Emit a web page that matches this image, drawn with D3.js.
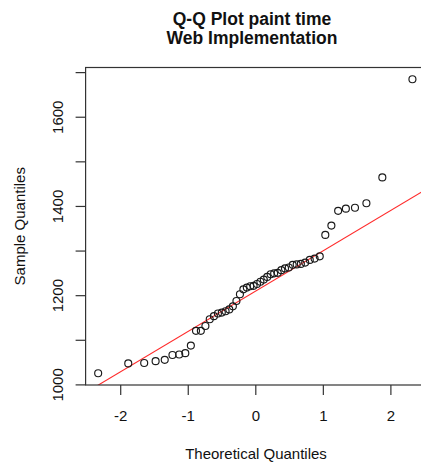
<!DOCTYPE html>
<html>
<head>
<meta charset="utf-8">
<script src="https://cdn.jsdelivr.net/npm/d3@7"></script>
<style>
  body { margin: 0; background: #fff; }
  text { font-family: "Liberation Sans", Arial, sans-serif; fill: #111; }
</style>
</head>
<body>
<svg id="chart" width="421" height="468"></svg>
<script>
// theoretical normal quantiles for n = 50 (qnorm(ppoints(50)))
var theoretical = [
  -2.3263, -1.8808, -1.6449, -1.4758, -1.3408, -1.2265, -1.1264, -1.0364, -0.9542, -0.8779,
  -0.8064, -0.7388, -0.6745, -0.6128, -0.5534, -0.4959, -0.4399, -0.3853, -0.3319, -0.2793,
  -0.2275, -0.1764, -0.1257, -0.0753, -0.0251, 0.0251, 0.0753, 0.1257, 0.1764, 0.2275,
  0.2793, 0.3319, 0.3853, 0.4399, 0.4959, 0.5534, 0.6128, 0.6745, 0.7388, 0.8064,
  0.8779, 0.9542, 1.0364, 1.1264, 1.2265, 1.3408, 1.4758, 1.6449, 1.8808, 2.3263
];
// sorted paint times (sample quantiles)
var sample = [
  1025, 1047, 1048, 1052, 1055, 1066, 1067, 1070, 1087, 1120,
  1120, 1131, 1146, 1153, 1159, 1161, 1164, 1168, 1175, 1187,
  1202, 1213, 1217, 1220, 1221, 1225, 1230, 1235, 1241, 1247,
  1249, 1250, 1256, 1260, 1262, 1268, 1269, 1270, 1273, 1279,
  1282, 1287, 1335, 1356, 1389, 1394, 1396, 1406, 1464, 1684
];
var xTicks = [-2, -1, 0, 1, 2];
var yTicks = [1000, 1100, 1200, 1300, 1400, 1500, 1600, 1700];
var yLabels = [1000, 1200, 1400, 1600];
var titleLines = ["Q-Q Plot paint time", "Web Implementation"];

var svg = d3.select('#chart');
var plotLeft = 85.6, plotRight = 425, plotTop = 67.5, plotBottom = 385;

// R style 4% axis extension
function extend(ext) {
    var pad = (ext[1] - ext[0]) * 0.04;
    return [ext[0] - pad, ext[1] + pad];
}

var x = d3.scaleLinear().domain(extend(d3.extent(theoretical))).range([plotLeft, plotRight]);
var y = d3.scaleLinear().domain(extend(d3.extent(sample))).range([plotBottom, plotTop]);

svg.append('clipPath').attr('id', 'plotclip')
    .append('rect')
    .attr('x', plotLeft).attr('y', plotTop)
    .attr('width', plotRight - plotLeft).attr('height', plotBottom - plotTop);

// qqline through the quartiles
var q1 = d3.quantile(sample, 0.25), q3 = d3.quantile(sample, 0.75);
var slope = (q3 - q1) / (0.6745 * 2);
var intercept = q1 + slope * 0.6745;
var lineX = x.domain();

svg.append('line')
    .attr('clip-path', 'url(#plotclip)')
    .attr('x1', x(lineX[0])).attr('y1', y(intercept + slope * lineX[0]))
    .attr('x2', x(lineX[1])).attr('y2', y(intercept + slope * lineX[1]))
    .attr('stroke', '#ff2a2a')
    .attr('stroke-width', 1.1);

svg.append('g')
    .selectAll('circle')
    .data(sample)
    .enter()
    .append('circle')
    .attr('cx', function (d, i) { return x(theoretical[i]); })
    .attr('cy', function (d) { return y(d); })
    .attr('r', 3.5)
    .attr('fill', 'none')
    .attr('stroke', '#1a1a1a')
    .attr('stroke-width', 1.15);

// box
svg.append('rect')
    .attr('x', plotLeft).attr('y', plotTop)
    .attr('width', plotRight - plotLeft).attr('height', plotBottom - plotTop)
    .attr('fill', 'none')
    .attr('stroke', '#333')
    .attr('stroke-width', 1.2);

// x axis
var xAxis = d3.axisBottom(x)
    .tickValues(xTicks)
    .tickSize(10)
    .tickPadding(15)
    .tickFormat(d3.format('d'));

var gx = svg.append('g')
    .attr('transform', 'translate(0,' + plotBottom + ')')
    .call(xAxis);
gx.select('.domain').remove();
gx.selectAll('.tick line').attr('stroke', '#333').attr('stroke-width', 1.2);
gx.selectAll('.tick text')
    .attr('font-size', 15)
    .attr('font-family', '"Liberation Sans", Arial, sans-serif')
    .attr('fill', '#111')
    .text(function (d) { return d < 0 ? '-' + Math.abs(d) : d; });

// y axis
var yAxis = d3.axisLeft(y)
    .tickValues(yTicks)
    .tickSize(10)
    .tickFormat(function (d) { return yLabels.indexOf(d) >= 0 ? d : ''; });

var gy = svg.append('g')
    .attr('transform', 'translate(' + plotLeft + ',0)')
    .call(yAxis);
gy.select('.domain').remove();
gy.selectAll('.tick line').attr('stroke', '#333').attr('stroke-width', 1.2);
gy.selectAll('.tick text')
    .attr('font-size', 15)
    .attr('font-family', '"Liberation Sans", Arial, sans-serif')
    .attr('fill', '#111')
    .attr('x', null).attr('dy', null)
    .attr('text-anchor', 'middle')
    .attr('transform', 'translate(-23,0) rotate(-90)');

// titles
svg.selectAll('.title')
    .data(titleLines)
    .enter()
    .append('text')
    .attr('class', 'title')
    .attr('x', 252)
    .attr('y', function (d, i) { return 25 + i * 18.5; })
    .attr('text-anchor', 'middle')
    .attr('font-size', 17.5)
    .attr('font-weight', 'bold')
    .text(function (d) { return d; });

svg.append('text')
    .attr('x', 256)
    .attr('y', 459)
    .attr('text-anchor', 'middle')
    .attr('font-size', 15)
    .text('Theoretical Quantiles');

svg.append('text')
    .attr('transform', 'translate(25,' + ((plotTop + plotBottom) / 2) + ') rotate(-90)')
    .attr('text-anchor', 'middle')
    .attr('font-size', 15)
    .text('Sample Quantiles');
</script>
</body>
</html>
